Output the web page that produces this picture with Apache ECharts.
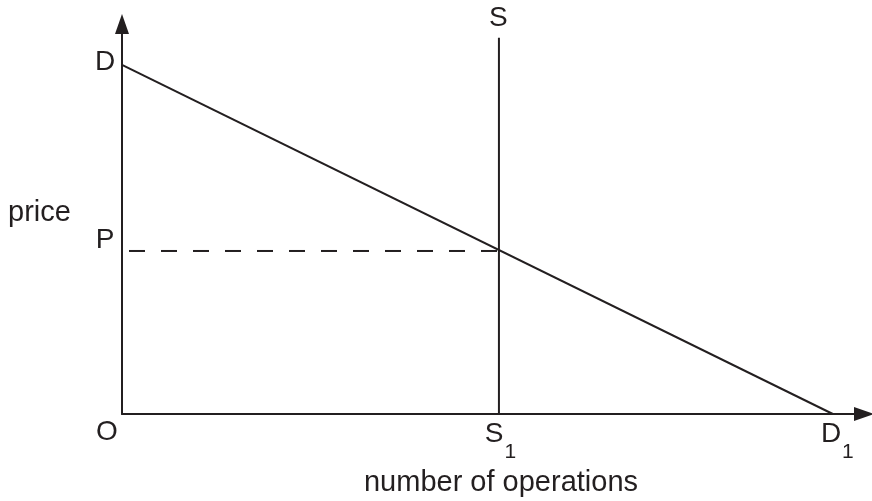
<!DOCTYPE html>
<html>
<head>
<meta charset="utf-8">
<script src="https://cdn.jsdelivr.net/npm/echarts@6/dist/echarts.min.js"></script>
<style>
    html, body { margin: 0; padding: 0; background: #fff; }
    #chart { width: 872px; height: 501px; }
</style>
</head>
<body>
<div id="chart"></div>
<script>
// 数据
var xMax = 10;
var yMax = 10;
var demandLine = [[0, 8.95], [9.58, 0]];
var supplyLine = [[5.08, 0], [5.08, 9.65]];
var priceLine = [[0, 4.18], [5.08, 4.18]];
var xTickValues = [0, 5.08, 9.58];
var xTickLabels = ['O', '{main|S}{sub|1}', '{main|D}{sub|1}'];
var yTickValues = [8.95, 4.18];
var yTickLabels = ['D', 'P'];
var supplyName = 'S';
var supplyTop = 9.65;
var xTitle = 'number of operations';
var yTitle = 'price';

var ink = '#231f20';
var font = "'Liberation Sans', Arial, Helvetica, sans-serif";

// 标签偏移 (像素)
var xTickOffsets = [[-15, 18], [1.5, 20], [4.5, 20]];
var yTickOffsets = [[-17, -3], [-17, -11]];

var labelData = [];
xTickValues.forEach(function (v, i) {
    labelData.push({ value: [v, 0], label: { formatter: xTickLabels[i], offset: xTickOffsets[i] } });
});
yTickValues.forEach(function (v, i) {
    labelData.push({ value: [0, v], label: { formatter: yTickLabels[i], offset: yTickOffsets[i] } });
});
labelData.push({ value: [supplyLine[0][0], supplyTop], label: { formatter: supplyName, offset: [-0.5, -19] } });

var myChart = echarts.init(document.getElementById('chart'), null, { renderer: 'canvas' });

var lineBase = { type: 'line', symbol: 'none', silent: true, animation: false };

var option = {
    animation: false,
    backgroundColor: '#fff',
    grid: { left: 122, right: 8, top: 24, bottom: 87 },
    xAxis: {
        type: 'value', min: 0, max: xMax,
        axisLine: { show: true, symbol: ['none', 'triangle'], symbolSize: [14, 20], lineStyle: { color: ink, width: 2 } },
        axisTick: { show: false }, axisLabel: { show: false }, splitLine: { show: false }
    },
    yAxis: {
        type: 'value', min: 0, max: yMax,
        axisLine: { show: true, symbol: ['none', 'triangle'], symbolSize: [14, 20], lineStyle: { color: ink, width: 2 } },
        axisTick: { show: false }, axisLabel: { show: false }, splitLine: { show: false }
    },
    series: [
        Object.assign({}, lineBase, { name: 'demand', data: demandLine, lineStyle: { color: ink, width: 2 } }),
        Object.assign({}, lineBase, { name: 'supply', data: supplyLine, lineStyle: { color: ink, width: 2, cap: 'butt' } }),
        Object.assign({}, lineBase, { name: 'price', data: priceLine, lineStyle: { color: ink, width: 2, type: [16, 16], dashOffset: 25 } }),
        {
            type: 'scatter', name: 'labels', silent: true, animation: false,
            symbolSize: 1, itemStyle: { color: ink, opacity: 0 },
            label: {
                show: true, position: 'inside', color: ink, opacity: 1, textBorderWidth: 0,
                fontFamily: font, fontSize: 28, lineHeight: 28,
                rich: {
                    main: { fontSize: 28, lineHeight: 28, verticalAlign: 'top', fontFamily: font, color: ink, textBorderWidth: 0 },
                    sub: { fontSize: 21, lineHeight: 21, verticalAlign: 'top', padding: [22, 0, 0, 1], fontFamily: font, color: ink, textBorderWidth: 0 }
                }
            },
            data: labelData
        }
    ],
    graphic: [
        { type: 'text', silent: true, style: { x: 8, y: 213, text: yTitle, font: '29px ' + font, fill: ink, textAlign: 'left', textVerticalAlign: 'middle', verticalAlign: 'middle' } },
        { type: 'text', silent: true, style: { x: 501, y: 483, text: xTitle, font: '29px ' + font, fill: ink, textAlign: 'center', textVerticalAlign: 'middle', verticalAlign: 'middle' } }
    ]
};

myChart.setOption(option);
</script>
</body>
</html>
